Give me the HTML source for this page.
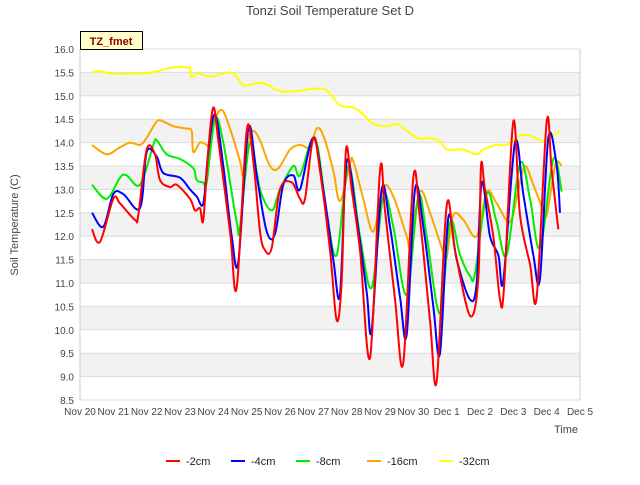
<!DOCTYPE html>
<html><head><meta charset="utf-8"><style>
body{margin:0;background:#fff;font-family:"Liberation Sans",sans-serif}
</style></head><body>
<svg id="chart" width="640" height="480" xmlns="http://www.w3.org/2000/svg" font-family="Liberation Sans, sans-serif">
<rect width="640" height="480" fill="#fff"/>
<text x="330" y="15" text-anchor="middle" font-size="13" fill="#444">Tonzi Soil Temperature Set D</text>
<text transform="translate(18,225) rotate(-90)" text-anchor="middle" font-size="11" fill="#444">Soil Temperature (C)</text>
<text x="566" y="433" text-anchor="middle" font-size="11" fill="#444">Time</text>
<g id="bands"></g><g id="axes"></g><g id="series"></g>
<g>
<rect x="80.5" y="31.5" width="62" height="18" fill="#ffffcc" stroke="#000"/>
<text x="111" y="45" text-anchor="middle" font-size="11" font-weight="bold" fill="#8b0000">TZ_fmet</text></g>
<g id="legend"></g>
</svg>
<script>
const yTicks=[8.5,9.0,9.5,10.0,10.5,11.0,11.5,12.0,12.5,13.0,13.5,14.0,14.5,15.0,15.5,16.0];
const xTickLabels=["Nov 20","Nov 21","Nov 22","Nov 23","Nov 24","Nov 25","Nov 26","Nov 27","Nov 28","Nov 29","Nov 30","Dec 1","Dec 2","Dec 3","Dec 4","Dec 5"];
const seriesNames=["-2cm","-4cm","-8cm","-16cm","-32cm"];
const t2=[0.36,0.6,1.0,1.2,1.65,1.75,2.0,2.25,2.4,2.7,2.9,3.3,3.45,3.6,3.7,3.85,4.0,4.15,4.5,4.7,5.0,5.2,5.4,5.55,5.75,6.0,6.35,6.6,6.75,7.0,7.2,7.5,7.7,7.85,7.98,8.15,8.4,8.7,9.0,9.15,9.45,9.7,10.0,10.2,10.5,10.7,11.0,11.25,11.7,11.95,12.03,12.15,12.4,12.6,12.72,13.0,13.2,13.5,13.7,14.0,14.15,14.35];
const v2=[12.15,11.88,12.8,12.7,12.35,12.45,13.85,13.75,13.2,13.05,13.1,12.8,12.55,12.6,12.35,13.85,14.75,14.05,12.1,10.9,14.25,13.6,12.1,11.7,11.75,13.0,13.15,12.8,12.8,14.1,13.4,11.7,10.2,11.05,13.85,13.0,11.7,9.4,13.4,12.55,10.65,9.3,13.25,12.35,10.2,8.9,12.65,11.7,10.3,11.1,13.5,13.0,12.0,10.65,10.9,14.45,12.45,11.4,10.7,14.45,13.4,12.15];
const t4=[0.36,0.7,1.0,1.3,1.8,2.0,2.3,2.5,3.0,3.3,3.5,3.7,3.85,4.05,4.3,4.55,4.75,5.05,5.3,5.6,5.85,6.1,6.4,6.6,7.0,7.3,7.6,7.8,8.0,8.3,8.6,8.75,9.05,9.3,9.6,9.8,10.05,10.3,10.6,10.8,11.05,11.3,11.7,11.9,12.05,12.3,12.55,12.7,13.05,13.3,13.6,13.8,14.05,14.3,14.4];
const v4=[12.5,12.2,12.9,12.9,12.6,13.8,13.7,13.35,13.25,13.0,12.85,12.7,13.8,14.6,13.5,12.0,11.45,14.3,13.3,12.1,12.05,13.1,13.3,13.0,14.1,13.0,11.5,10.75,13.6,12.4,10.8,10.0,13.0,12.2,10.7,9.9,13.0,12.2,10.5,9.5,12.4,11.5,10.65,11.0,13.15,12.0,11.6,11.05,14.0,12.9,11.6,11.1,14.1,13.5,12.5];
const t8=[0.36,0.8,1.2,1.4,1.8,2.2,2.3,2.6,3.0,3.4,3.5,3.7,3.8,4.05,4.3,4.7,4.8,5.1,5.4,5.75,6.0,6.4,6.6,7.05,7.4,7.7,8.05,8.4,8.75,9.1,9.4,9.8,10.15,10.4,10.8,11.1,11.4,11.7,11.85,12.2,12.5,12.8,13.2,13.5,13.8,14.2,14.45];
const v8=[13.1,12.8,13.25,13.3,13.1,13.95,14.05,13.75,13.65,13.45,13.2,13.15,13.15,14.5,14.0,12.3,12.2,14.0,13.0,12.55,13.0,13.5,13.3,14.1,12.5,11.6,13.5,12.0,10.9,12.85,12.2,10.75,12.85,12.0,10.35,12.3,11.6,11.15,11.2,12.9,12.3,11.6,13.55,12.8,11.75,13.65,12.95];
const t16=[0.36,0.8,1.2,1.5,1.8,2.0,2.3,2.5,2.8,3.2,3.35,3.4,3.6,3.8,3.9,4.0,4.25,4.5,4.8,4.9,5.05,5.2,5.4,5.7,5.95,6.3,6.6,6.9,7.1,7.3,7.6,7.8,8.1,8.2,8.5,8.8,9.1,9.4,9.8,9.9,10.2,10.5,10.9,11.0,11.2,11.5,11.9,12.2,12.5,12.9,13.15,13.35,13.6,13.9,14.0,14.2,14.3,14.45];
const v16=[13.95,13.75,13.9,14.0,13.95,14.1,14.45,14.45,14.35,14.3,14.25,13.8,14.0,13.95,13.9,14.4,14.7,14.3,13.6,13.3,14.05,14.25,14.05,13.5,13.45,13.85,13.95,13.9,14.3,14.15,13.4,12.75,13.55,13.6,12.8,12.1,13.05,12.85,12.0,11.85,12.95,12.5,11.65,11.55,12.45,12.35,12.0,12.95,12.7,12.3,13.0,13.5,13.1,12.55,12.45,13.3,13.6,13.5];
const t32=[0.36,0.6,1.0,1.5,2.0,2.3,2.6,3.0,3.2,3.3,3.35,3.5,3.8,4.0,4.5,4.7,4.9,5.2,5.5,6.0,6.5,7.0,7.3,7.5,7.8,8.2,8.5,8.8,9.2,9.5,9.9,10.2,10.5,10.8,11.0,11.3,11.5,11.9,12.1,12.5,12.8,13.2,13.5,13.8,14.0,14.2,14.4];
const v32=[15.5,15.52,15.47,15.47,15.48,15.52,15.58,15.62,15.6,15.6,15.4,15.48,15.42,15.42,15.5,15.4,15.22,15.25,15.27,15.1,15.1,15.15,15.15,15.05,14.8,14.75,14.6,14.4,14.35,14.4,14.2,14.08,14.1,14.02,13.85,13.85,13.85,13.75,13.85,13.95,13.95,14.15,14.15,14.05,14.05,14.15,14.25];
const colors=["#ff0000","#0000ff","#00ee00","#ffa500","#ffff00"];
const X0=80,X1=580,Y0=400,Y1=49;
const xs=d=>X0+(X1-X0)*d/15;
const ys=v=>Y0-(Y0-Y1)*(v-8.5)/7.5;
const NS="http://www.w3.org/2000/svg";
function mk(tag,attrs,parent){const e=document.createElementNS(NS,tag);for(const k in attrs)e.setAttribute(k,attrs[k]);parent.appendChild(e);return e;}
const bands=document.getElementById('bands'),axes=document.getElementById('axes'),ser=document.getElementById('series'),leg=document.getElementById('legend');
for(let i=0;i<yTicks.length-1;i++){
  if(i%2===1){const r=mk('rect',{x:X0,y:ys(yTicks[i+1]),width:X1-X0,height:ys(yTicks[i])-ys(yTicks[i+1]),fill:'#f2f2f2'},bands);
  
  }
}
yTicks.forEach(v=>{
  const l=mk('line',{x1:X0,x2:X1,y1:ys(v),y2:ys(v),stroke:'#dcdcdc'},axes);
  
  
  const t=mk('text',{x:X0-6,y:ys(v)+4,'text-anchor':'end','font-size':'10',fill:'#444'},axes);t.textContent=v.toFixed(1);
  
  
});
xTickLabels.forEach((s,i)=>{
  const t=mk('text',{x:xs(i),y:Y0+15,'text-anchor':'middle','font-size':'10',fill:'#444'},axes);t.textContent=s;
  
  
});
mk('line',{x1:X0,x2:X0,y1:Y1,y2:Y0,stroke:'#ccc'},axes);
mk('line',{x1:X1,x2:X1,y1:Y1,y2:Y0,stroke:'#ccc'},axes);
const T=[t2,t4,t8,t16,t32],V=[v2,v4,v8,v16,v32];
function smooth(pts){let d=`M${pts[0][0]},${pts[0][1]}`;for(let i=0;i<pts.length-1;i++){const p0=pts[Math.max(0,i-1)],p1=pts[i],p2=pts[i+1],p3=pts[Math.min(pts.length-1,i+2)];
const c1=[p1[0]+(p2[0]-p0[0])/6,p1[1]+(p2[1]-p0[1])/6],c2=[p2[0]-(p3[0]-p1[0])/6,p2[1]-(p3[1]-p1[1])/6];
d+=` C${c1[0].toFixed(1)},${c1[1].toFixed(1)} ${c2[0].toFixed(1)},${c2[1].toFixed(1)} ${p2[0].toFixed(1)},${p2[1].toFixed(1)}`;}return d;}
for(let s=4;s>=0;s--){
  const pts=T[s].map((d,i)=>[xs(d),ys(V[s][i])]);
  const p=mk('path',{d:smooth(pts),fill:'none',stroke:colors[s],'stroke-width':'2','stroke-linejoin':'round'},ser);
  
  
}
const lx=[166,231,296,367,439];
seriesNames.forEach((n,i)=>{
  const g=mk('g',{},leg);
  
  
  mk('line',{x1:lx[i],x2:lx[i]+14,y1:461,y2:461,stroke:colors[i],'stroke-width':'2'},g);
  const t=mk('text',{x:lx[i]+20,y:465,'font-size':'11',fill:'#222'},g);t.textContent=n;
});
</script>
</body></html>
